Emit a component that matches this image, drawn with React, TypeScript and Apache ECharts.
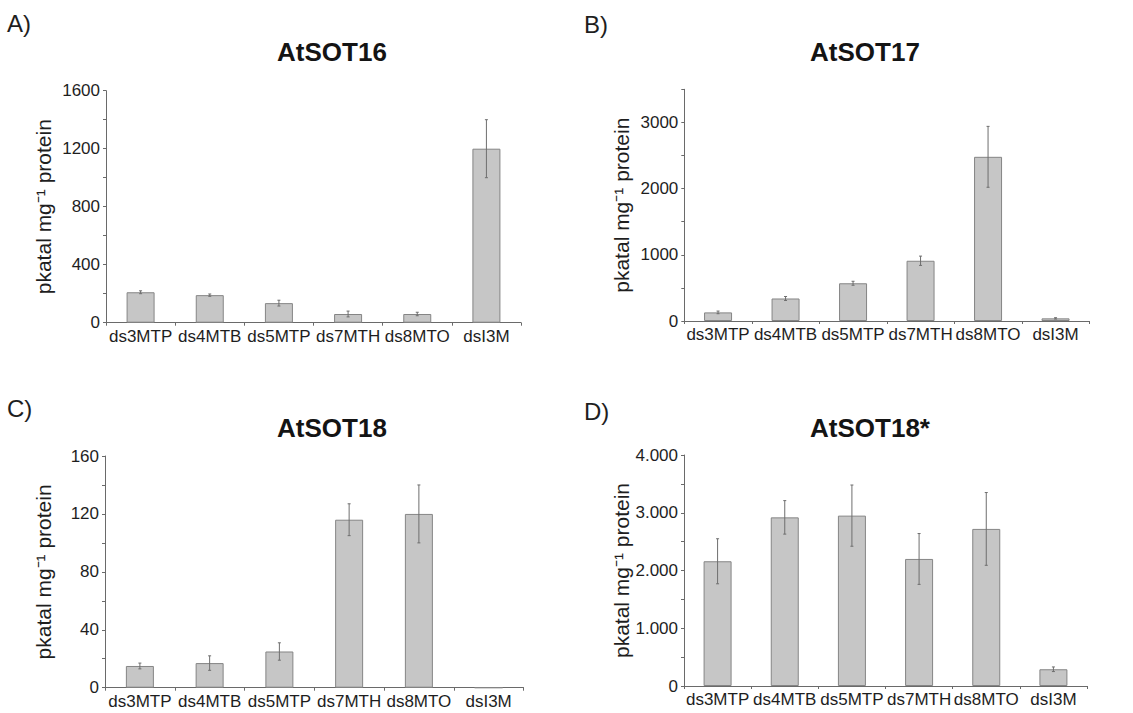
import React, { useEffect, useRef } from "react";
import * as echarts from "echarts";

const CATEGORIES = ["ds3MTP", "ds4MTB", "ds5MTP", "ds7MTH", "ds8MTO", "dsI3M"];

const A_VALUES = [210, 190, 135, 60, 60, 1200];
const A_ERRORS = [10, 8, 20, 20, 12, 200];
const B_VALUES = [130, 340, 570, 910, 2480, 40];
const B_ERRORS = [20, 30, 30, 70, 460, 10];
const C_VALUES = [15, 17, 25, 116, 120, 0];
const C_ERRORS = [2, 5, 6, 11, 20, 0];
const D_VALUES = [2160, 2920, 2950, 2200, 2720, 290];
const D_ERRORS = [390, 290, 530, 440, 630, 40];

const PANEL_LETTERS = ["A)", "B)", "C)", "D)"];
const PANEL_TITLES = ["AtSOT16", "AtSOT17", "AtSOT18", "AtSOT18*"];
const Y_LABEL = "pkatal mg\u207B\u00B9 protein";

const FONT = "'Liberation Sans', Arial, Helvetica, sans-serif";

export default function App() {
  const ref = useRef<HTMLDivElement>(null);

  useEffect(() => {
    document.body.style.margin = "0";
    if (!ref.current) return;
    const chart = echarts.init(ref.current, undefined, { renderer: "svg" });

    const grids = [
      { left: 106, top: 90.7, width: 415, height: 232 },
      { left: 684.3, top: 89.3, width: 405, height: 231.7 },
      { left: 105, top: 456, width: 418.5, height: 231.7 },
      { left: 684, top: 455, width: 403, height: 231 },
    ];
    const yCfg = [
      { max: 1600, interval: 200, step: 400, fmt: (v: number) => String(v) },
      { max: 3500, interval: 500, step: 1000, fmt: (v: number) => String(v) },
      { max: 160, interval: 20, step: 40, fmt: (v: number) => String(v) },
      {
        max: 4000,
        interval: 500,
        step: 1000,
        fmt: (v: number) => (v === 0 ? "0" : v / 1000 + ".000"),
      },
    ];
    const values = [A_VALUES, B_VALUES, C_VALUES, D_VALUES];
    const errors = [A_ERRORS, B_ERRORS, C_ERRORS, D_ERRORS];

    const axisColor = "#6a6a6a";

    const xAxis = grids.map((_, i) => ({
      type: "category",
      gridIndex: i,
      data: CATEGORIES,
      boundaryGap: true,
      axisLine: { lineStyle: { color: axisColor, width: 1 } },
      axisTick: { show: true, length: 3, lineStyle: { color: axisColor } },
      axisLabel: {
        interval: 0,
        margin: 5,
        fontSize: 17,
        color: "#1e1e1e",
        fontFamily: FONT,
      },
    }));

    const yAxis = yCfg.map((c, i) => ({
      type: "value",
      gridIndex: i,
      min: 0,
      max: c.max,
      interval: c.interval,
      splitLine: { show: false },
      axisLine: { show: true, lineStyle: { color: axisColor, width: 1 } },
      axisTick: { show: true, length: 3, lineStyle: { color: axisColor } },
      axisLabel: {
        margin: 6,
        fontSize: 17,
        color: "#1e1e1e",
        fontFamily: FONT,
        formatter: (v: number) => (v % c.step === 0 ? c.fmt(v) : ""),
      },
    }));

    const series: any[] = [];
    values.forEach((vals, i) => {
      series.push({
        type: "bar",
        xAxisIndex: i,
        yAxisIndex: i,
        data: vals,
        barWidth: 28,
        itemStyle: { color: "#c6c6c6", borderColor: "#858585", borderWidth: 1 },
      });
      series.push({
        type: "custom",
        xAxisIndex: i,
        yAxisIndex: i,
        data: vals.map((v, k) => [k, v, errors[i][k]]),
        encode: { x: 0, y: 1 },
        z: 5,
        renderItem: (params: any, api: any) => {
          const x = api.value(0);
          const v = api.value(1);
          const e = api.value(2);
          if (!e) return { type: "group", children: [] };
          const top = api.coord([x, v + e]);
          const bot = api.coord([x, v - e]);
          const style = { stroke: "#6e6e6e", lineWidth: 1 };
          return {
            type: "group",
            children: [
              { type: "line", shape: { x1: top[0], y1: top[1], x2: bot[0], y2: bot[1] }, style },
              { type: "line", shape: { x1: top[0] - 1.5, y1: top[1], x2: top[0] + 1.5, y2: top[1] }, style },
              { type: "line", shape: { x1: bot[0] - 1.5, y1: bot[1], x2: bot[0] + 1.5, y2: bot[1] }, style },
            ],
          };
        },
      });
    });

    const letterPos = [
      [7, 23],
      [584, 24],
      [7, 408],
      [584, 411],
    ];
    const titlePos = [
      [332, 52],
      [865, 52],
      [332, 428],
      [870, 428],
    ];
    const yLabelPos = [
      [43, 206.7],
      [621.7, 205.2],
      [43, 571.9],
      [621.7, 570.5],
    ];

    const graphic: any[] = [];
    for (let i = 0; i < 4; i++) {
      graphic.push({
        type: "text",
        x: letterPos[i][0],
        y: letterPos[i][1],
        style: {
          text: PANEL_LETTERS[i],
          fontSize: 24,
          fontFamily: FONT,
          fill: "#1e1e1e",
          textAlign: "left",
          textVerticalAlign: "middle",
        },
      });
      graphic.push({
        type: "text",
        x: titlePos[i][0],
        y: titlePos[i][1],
        style: {
          text: PANEL_TITLES[i],
          fontSize: 26,
          fontWeight: "bold",
          fontFamily: FONT,
          fill: "#141414",
          textAlign: "center",
          textVerticalAlign: "middle",
        },
      });
      graphic.push({
        type: "text",
        x: yLabelPos[i][0],
        y: yLabelPos[i][1],
        rotation: Math.PI / 2,
        style: {
          text: Y_LABEL,
          fontSize: 21,
          fontFamily: FONT,
          fill: "#1e1e1e",
          textAlign: "center",
          textVerticalAlign: "middle",
        },
      });
    }

    chart.setOption({
      animation: false,
      backgroundColor: "#ffffff",
      grid: grids.map((g) => ({ ...g, containLabel: false })),
      xAxis,
      yAxis,
      series,
      graphic,
    });

    return () => chart.dispose();
  }, []);

  return <div ref={ref} style={{ width: 1133, height: 713 }} />;
}
